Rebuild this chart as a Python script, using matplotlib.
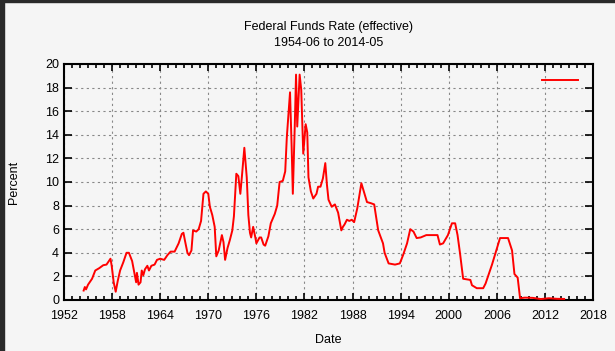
import matplotlib
matplotlib.use("Agg")
import matplotlib.pyplot as plt
from matplotlib.patches import Rectangle
from matplotlib.ticker import MultipleLocator

plt.rcParams['font.family'] = ['Liberation Sans', 'DejaVu Sans']

# Effective federal funds rate
years = [
    1954.45, 1954.6, 1954.75, 1955.0, 1955.5, 1955.9, 1956.4, 1956.9, 1957.3, 1957.8,
    1957.95, 1958.2, 1958.45, 1958.7, 1959.0, 1959.4, 1959.8, 1960.1, 1960.5, 1960.8,
    1961.0, 1961.1, 1961.3, 1961.55, 1961.7, 1961.9, 1962.1, 1962.4, 1962.6, 1962.9,
    1963.3, 1963.6, 1964.0, 1964.5, 1964.9, 1965.3, 1965.8, 1966.3, 1966.7, 1966.9,
    1967.1, 1967.4, 1967.6, 1967.9, 1968.1, 1968.5, 1968.8, 1969.1, 1969.4, 1969.7,
    1970.0, 1970.2, 1970.5, 1970.8, 1971.0, 1971.3, 1971.7, 1971.9, 1972.1, 1972.4,
    1972.7, 1973.0, 1973.2, 1973.5, 1973.75, 1974.0, 1974.2, 1974.5, 1974.8, 1975.0,
    1975.2, 1975.35, 1975.6, 1975.9, 1976.0, 1976.4, 1976.6, 1976.9, 1977.1, 1977.5,
    1977.8, 1978.3, 1978.6, 1978.9, 1979.3, 1979.6, 1979.8, 1980.2, 1980.4, 1980.55,
    1980.8, 1980.95, 1981.1, 1981.4, 1981.6, 1981.85, 1982.15, 1982.35, 1982.5, 1982.8,
    1983.1, 1983.5, 1983.7, 1984.0, 1984.3, 1984.6, 1984.8, 1985.0, 1985.4, 1985.8,
    1986.2, 1986.6, 1986.8, 1987.0, 1987.3, 1987.6, 1987.9, 1988.2, 1988.6, 1989.1,
    1989.4, 1989.8, 1990.3, 1990.7, 1991.2, 1991.8, 1992.0, 1992.5, 1993.3, 1993.9,
    1994.3, 1994.8, 1995.2, 1995.6, 1996.0, 1996.5, 1997.2, 1998.0, 1998.6, 1998.9,
    1999.3, 1999.9, 2000.4, 2000.8, 2001.1, 2001.4, 2001.8, 2002.7, 2002.9, 2003.5,
    2004.3, 2004.6, 2005.4, 2006.4, 2007.4, 2007.9, 2008.2, 2008.6, 2008.9, 2009.5,
    2010.5, 2011.5, 2012.5, 2013.5, 2014.4,
]
rates = [
    0.8, 1.1, 0.9, 1.3, 1.8, 2.5, 2.7, 2.95, 3.0, 3.5,
    2.9, 1.5, 0.7, 1.6, 2.5, 3.2, 4.0, 4.0, 3.3, 2.2,
    1.5, 2.3, 1.3, 1.5, 2.5, 2.1, 2.6, 2.9, 2.5, 2.9,
    3.0, 3.4, 3.5, 3.4, 3.8, 4.1, 4.1, 4.8, 5.6, 5.7,
    5.0, 4.0, 3.8, 4.2, 5.9, 5.8, 6.0, 6.7, 9.0, 9.2,
    9.0, 7.9, 7.2, 6.2, 3.7, 4.2, 5.5, 4.9, 3.4, 4.4,
    5.1, 5.9, 7.1, 10.7, 10.5, 9.0, 10.5, 12.9, 10.4, 7.2,
    5.7, 5.3, 6.2, 5.2, 4.8, 5.3, 5.3, 4.7, 4.6, 5.4,
    6.5, 7.3, 8.0, 10.0, 10.1, 10.9, 13.8, 17.6, 13.0, 9.0,
    15.0, 19.1, 14.7, 19.1, 17.8, 12.4, 14.9, 14.2, 10.4, 9.2,
    8.6, 9.0, 9.6, 9.6, 10.3, 11.6, 9.8, 8.5, 7.9, 8.1,
    7.4, 5.9, 6.2, 6.4, 6.8, 6.7, 6.8, 6.6, 7.8, 9.9,
    9.2, 8.3, 8.2, 8.1, 5.9, 4.8, 4.0, 3.1, 3.0, 3.1,
    3.8, 4.8, 6.0, 5.8, 5.25, 5.3, 5.5, 5.5, 5.5, 4.7,
    4.8, 5.5, 6.5, 6.5, 5.5, 4.0, 1.8, 1.7, 1.25, 1.0,
    1.0, 1.4, 3.0, 5.25, 5.25, 4.2, 2.2, 1.9, 0.15, 0.2,
    0.18, 0.08, 0.15, 0.1, 0.09,
]
year_ticks = [1952, 1958, 1964, 1970, 1976, 1982, 1988, 1994, 2000, 2006, 2012, 2018]

fig = plt.figure(figsize=(6.15, 3.51), dpi=100, facecolor="#f5f5f5")
ax = fig.add_axes([64 / 615, 1 - 300 / 351, 529 / 615, 236 / 351])
ax.set_facecolor("#f5f5f5")

# dark frame strips on top and left edge of the screenshot
fig.patches.append(Rectangle((0, 0), 4 / 615, 1, transform=fig.transFigure,
                             color="#2a2a2a", zorder=0))
fig.patches.append(Rectangle((0, 1 - 2 / 351), 1, 2 / 351, transform=fig.transFigure,
                             color="#2a2a2a", zorder=0))

line, = ax.plot(years, rates, color="#ff0000", linewidth=1.4, zorder=3)

ax.set_xlim(1952, 2018)
ax.set_ylim(0, 20)
ax.set_xticks(year_ticks)
ax.xaxis.set_minor_locator(MultipleLocator(1))
ax.yaxis.set_major_locator(MultipleLocator(2))

ax.grid(True, which="major", color="#888888", linestyle=(0, (2, 3)), linewidth=0.8)
ax.tick_params(which="both", direction="in", top=True, right=True,
               labelsize=9, colors="black", width=1.2)
ax.tick_params(axis="x", which="major", length=5, pad=7)
ax.tick_params(axis="x", which="minor", length=3)
ax.tick_params(axis="y", which="major", length=6)
for s in ax.spines.values():
    s.set_linewidth(1.5)

ax.set_xlabel("Date", fontsize=9, labelpad=9)
ax.set_ylabel("Percent", fontsize=9)
ax.yaxis.set_label_coords(-0.083, 0.5)

fig.text(328.5 / 615, 1 - 27 / 351, "Federal Funds Rate (effective)",
         ha="center", va="center", fontsize=9)
fig.text(328.5 / 615, 1 - 43 / 351, "1954-06 to 2014-05",
         ha="center", va="center", fontsize=9)

ax.legend([line], [" "], loc="center", frameon=False, handlelength=2.6,
          bbox_to_anchor=(0.945, 0.928), handletextpad=0.3)

fig.savefig("out.png", dpi=100, facecolor=fig.get_facecolor())
